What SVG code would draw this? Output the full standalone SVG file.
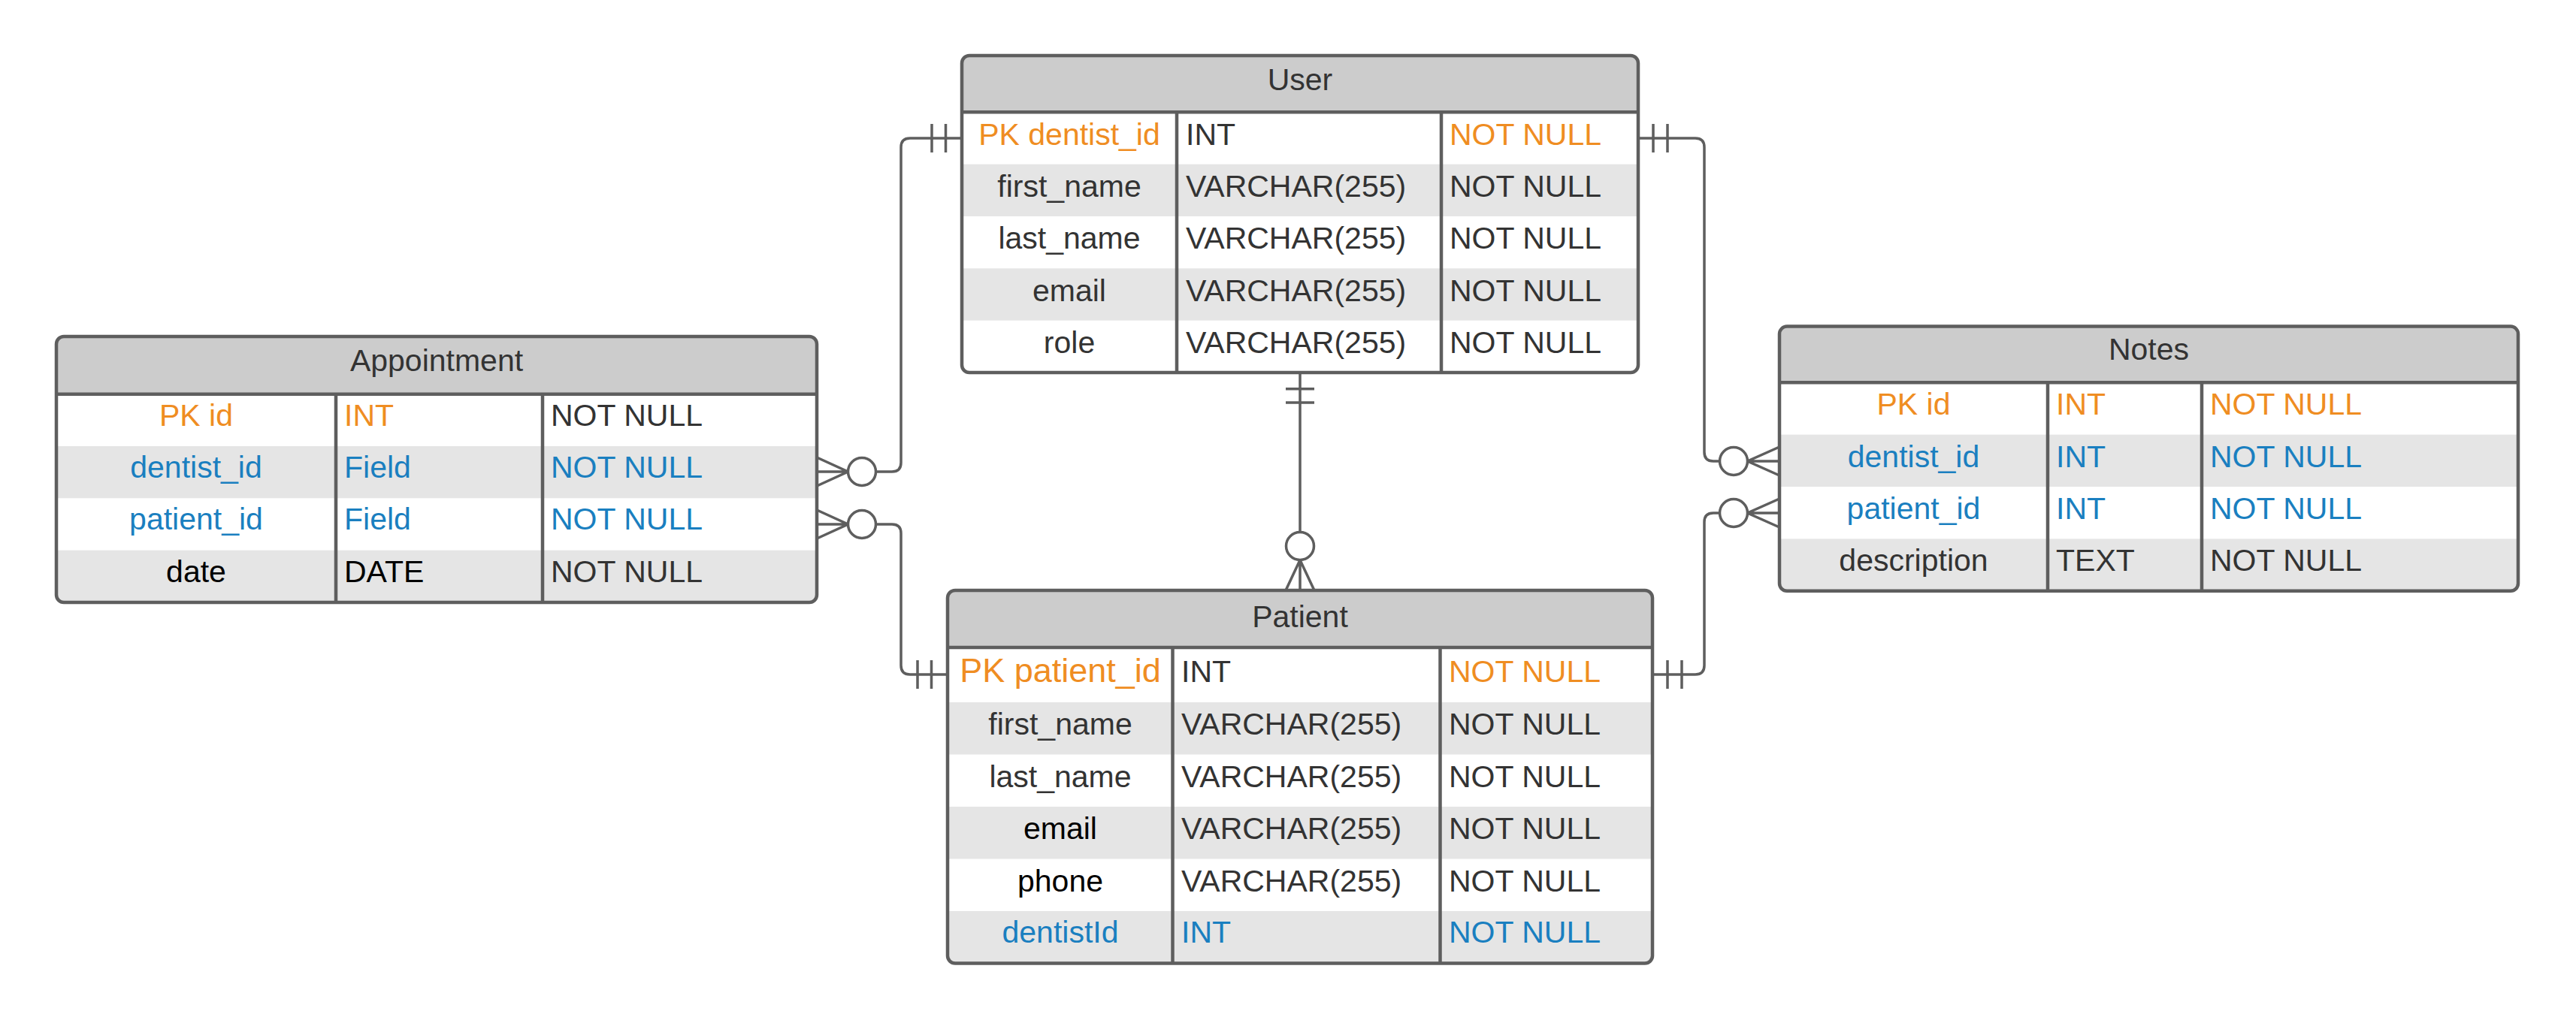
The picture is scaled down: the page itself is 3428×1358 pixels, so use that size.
<svg xmlns="http://www.w3.org/2000/svg" width="3428" height="1358" viewBox="0 0 3428 1358">
<style>
.t{font-family:"Liberation Sans",Arial,Helvetica,sans-serif;font-size:41px;fill:#333333}
.c{text-anchor:middle}
.o{fill:#ef8d22}
.b{fill:#1a7fc0}
.k{fill:#000000}
.big{font-size:45px}
.hdr{fill:#cccccc}
.alt{fill:#e5e5e5}
.body{fill:#ffffff}
.frame{fill:none;stroke:#5e5e5e;stroke-width:4.5}
.div{stroke:#5e5e5e;stroke-width:4.5}
.ln{fill:none;stroke:#5e5e5e;stroke-width:3.5}
.ring{fill:#ffffff;stroke:#5e5e5e;stroke-width:3.5}
</style>
<defs>
<clipPath id="cpU"><rect x="1280" y="74" width="900" height="422" rx="10"/></clipPath>
<clipPath id="cpA"><rect x="75" y="448" width="1012" height="354" rx="10"/></clipPath>
<clipPath id="cpP"><rect x="1261" y="786" width="938" height="496.5" rx="10"/></clipPath>
<clipPath id="cpN"><rect x="2368" y="434.6" width="983" height="352.2" rx="10"/></clipPath>
</defs>
<rect width="3428" height="1358" fill="#ffffff"/>

<g id="connectors">
  <!-- User.dentist_id -> Appointment.dentist_id -->
  <path class="ln" d="M1280 184 H1211 Q1199 184 1199 196 V616 Q1199 628 1187 628 H1166"/>
  <path class="ln" d="M1240 165 V203 M1258.5 165 V203"/>
  <path class="ln" d="M1087 609 L1128.5 628 L1087 647 M1087 628 H1128.5"/>
  <circle class="ring" cx="1147" cy="628" r="18.5"/>
  <!-- Patient.patient_id -> Appointment.patient_id -->
  <path class="ln" d="M1261 898 H1211 Q1199 898 1199 886 V710 Q1199 698 1187 698 H1166"/>
  <path class="ln" d="M1221 879 V917 M1239.5 879 V917"/>
  <path class="ln" d="M1087 679 L1128.5 698 L1087 717 M1087 698 H1128.5"/>
  <circle class="ring" cx="1147" cy="698" r="18.5"/>
  <!-- User.dentist_id -> Notes.dentist_id -->
  <path class="ln" d="M2180 184 H2256 Q2268 184 2268 196 V602 Q2268 614 2280 614 H2288.5"/>
  <path class="ln" d="M2200 165 V203 M2219 165 V203"/>
  <path class="ln" d="M2368 595 L2325.5 614 L2368 633 M2368 614 H2325.5"/>
  <circle class="ring" cx="2307" cy="614" r="18.5"/>
  <!-- Patient.patient_id -> Notes.patient_id -->
  <path class="ln" d="M2199 898 H2256 Q2268 898 2268 886 V695 Q2268 683 2280 683 H2288.5"/>
  <path class="ln" d="M2219 879 V917 M2238 879 V917"/>
  <path class="ln" d="M2368 664 L2325.5 683 L2368 702 M2368 683 H2325.5"/>
  <circle class="ring" cx="2307" cy="683" r="18.5"/>
  <!-- User -> Patient -->
  <path class="ln" d="M1730 496 V708.5"/>
  <path class="ln" d="M1711 517.7 H1749 M1711 536 H1749"/>
  <path class="ln" d="M1711 786 L1730 745.5 L1749 786 M1730 786 V745.5"/>
  <circle class="ring" cx="1730" cy="727" r="18.5"/>
</g>

<g id="user">
  <g clip-path="url(#cpU)">
    <rect class="body" x="1280" y="74" width="900" height="422"/>
    <rect class="hdr" x="1280" y="74" width="900" height="75.3"/>
    <rect class="alt" x="1280" y="218.65" width="900" height="69.35"/>
    <rect class="alt" x="1280" y="357.35" width="900" height="69.35"/>
  </g>
  <line class="div" x1="1280" y1="149.3" x2="2180" y2="149.3"/>
  <line class="div" x1="1566" y1="149.3" x2="1566" y2="496"/>
  <line class="div" x1="1918" y1="149.3" x2="1918" y2="496"/>
  <rect class="frame" x="1280" y="74" width="900" height="422" rx="10"/>
  <text class="t c" x="1730" y="120">User</text>
  <text class="t c o" x="1423" y="192.7">PK dentist_id</text>
  <text class="t" x="1578" y="192.7">INT</text>
  <text class="t o" x="1929" y="192.7">NOT NULL</text>
  <text class="t c" x="1423" y="262">first_name</text>
  <text class="t" x="1578" y="262">VARCHAR(255)</text>
  <text class="t" x="1929" y="262">NOT NULL</text>
  <text class="t c" x="1423" y="331.3">last_name</text>
  <text class="t" x="1578" y="331.3">VARCHAR(255)</text>
  <text class="t" x="1929" y="331.3">NOT NULL</text>
  <text class="t c" x="1423" y="400.6">email</text>
  <text class="t" x="1578" y="400.6">VARCHAR(255)</text>
  <text class="t" x="1929" y="400.6">NOT NULL</text>
  <text class="t c" x="1423" y="470">role</text>
  <text class="t" x="1578" y="470">VARCHAR(255)</text>
  <text class="t" x="1929" y="470">NOT NULL</text>
</g>

<g id="appointment">
  <g clip-path="url(#cpA)">
    <rect class="body" x="75" y="448" width="1012" height="354"/>
    <rect class="hdr" x="75" y="448" width="1012" height="76.7"/>
    <rect class="alt" x="75" y="594" width="1012" height="69.3"/>
    <rect class="alt" x="75" y="732.6" width="1012" height="69.4"/>
  </g>
  <line class="div" x1="75" y1="524.7" x2="1087" y2="524.7"/>
  <line class="div" x1="447" y1="524.7" x2="447" y2="802"/>
  <line class="div" x1="722" y1="524.7" x2="722" y2="802"/>
  <rect class="frame" x="75" y="448" width="1012" height="354" rx="10"/>
  <text class="t c" x="581" y="494">Appointment</text>
  <text class="t c o" x="261" y="566.7">PK id</text>
  <text class="t o" x="458" y="566.7">INT</text>
  <text class="t" x="733" y="566.7">NOT NULL</text>
  <text class="t c b" x="261" y="636">dentist_id</text>
  <text class="t b" x="458" y="636">Field</text>
  <text class="t b" x="733" y="636">NOT NULL</text>
  <text class="t c b" x="261" y="705.3">patient_id</text>
  <text class="t b" x="458" y="705.3">Field</text>
  <text class="t b" x="733" y="705.3">NOT NULL</text>
  <text class="t c k" x="261" y="774.6">date</text>
  <text class="t k" x="458" y="774.6">DATE</text>
  <text class="t" x="733" y="774.6">NOT NULL</text>
</g>

<g id="patient">
  <g clip-path="url(#cpP)">
    <rect class="body" x="1261" y="786" width="938" height="496.5"/>
    <rect class="hdr" x="1261" y="786" width="938" height="76"/>
    <rect class="alt" x="1261" y="935" width="938" height="69.5"/>
    <rect class="alt" x="1261" y="1074" width="938" height="69.5"/>
    <rect class="alt" x="1261" y="1213" width="938" height="69.5"/>
  </g>
  <line class="div" x1="1261" y1="862" x2="2199" y2="862"/>
  <line class="div" x1="1560.5" y1="862" x2="1560.5" y2="1282.5"/>
  <line class="div" x1="1916.5" y1="862" x2="1916.5" y2="1282.5"/>
  <rect class="frame" x="1261" y="786" width="938" height="496.5" rx="10"/>
  <text class="t c" x="1730" y="834.6">Patient</text>
  <text class="t c o big" x="1411" y="908">PK patient_id</text>
  <text class="t" x="1572" y="908">INT</text>
  <text class="t o" x="1928" y="908">NOT NULL</text>
  <text class="t c" x="1411" y="978">first_name</text>
  <text class="t" x="1572" y="978">VARCHAR(255)</text>
  <text class="t" x="1928" y="978">NOT NULL</text>
  <text class="t c" x="1411" y="1048">last_name</text>
  <text class="t" x="1572" y="1048">VARCHAR(255)</text>
  <text class="t" x="1928" y="1048">NOT NULL</text>
  <text class="t c k" x="1411" y="1117">email</text>
  <text class="t" x="1572" y="1117">VARCHAR(255)</text>
  <text class="t" x="1928" y="1117">NOT NULL</text>
  <text class="t c k" x="1411" y="1186.5">phone</text>
  <text class="t" x="1572" y="1186.5">VARCHAR(255)</text>
  <text class="t" x="1928" y="1186.5">NOT NULL</text>
  <text class="t c b" x="1411" y="1255">dentistId</text>
  <text class="t b" x="1572" y="1255">INT</text>
  <text class="t b" x="1928" y="1255">NOT NULL</text>
</g>

<g id="notes">
  <g clip-path="url(#cpN)">
    <rect class="body" x="2368" y="434.6" width="983" height="352.2"/>
    <rect class="hdr" x="2368" y="434.6" width="983" height="74.6"/>
    <rect class="alt" x="2368" y="578.6" width="983" height="69.4"/>
    <rect class="alt" x="2368" y="717.4" width="983" height="69.4"/>
  </g>
  <line class="div" x1="2368" y1="509.2" x2="3351" y2="509.2"/>
  <line class="div" x1="2725" y1="509.2" x2="2725" y2="786.8"/>
  <line class="div" x1="2930" y1="509.2" x2="2930" y2="786.8"/>
  <rect class="frame" x="2368" y="434.6" width="983" height="352.2" rx="10"/>
  <text class="t c" x="2859.5" y="479.4">Notes</text>
  <text class="t c o" x="2546.5" y="552">PK id</text>
  <text class="t o" x="2736" y="552">INT</text>
  <text class="t o" x="2941" y="552">NOT NULL</text>
  <text class="t c b" x="2546.5" y="621.6">dentist_id</text>
  <text class="t b" x="2736" y="621.6">INT</text>
  <text class="t b" x="2941" y="621.6">NOT NULL</text>
  <text class="t c b" x="2546.5" y="691.3">patient_id</text>
  <text class="t b" x="2736" y="691.3">INT</text>
  <text class="t b" x="2941" y="691.3">NOT NULL</text>
  <text class="t c" x="2546.5" y="760">description</text>
  <text class="t" x="2736" y="760">TEXT</text>
  <text class="t" x="2941" y="760">NOT NULL</text>
</g>
</svg>
